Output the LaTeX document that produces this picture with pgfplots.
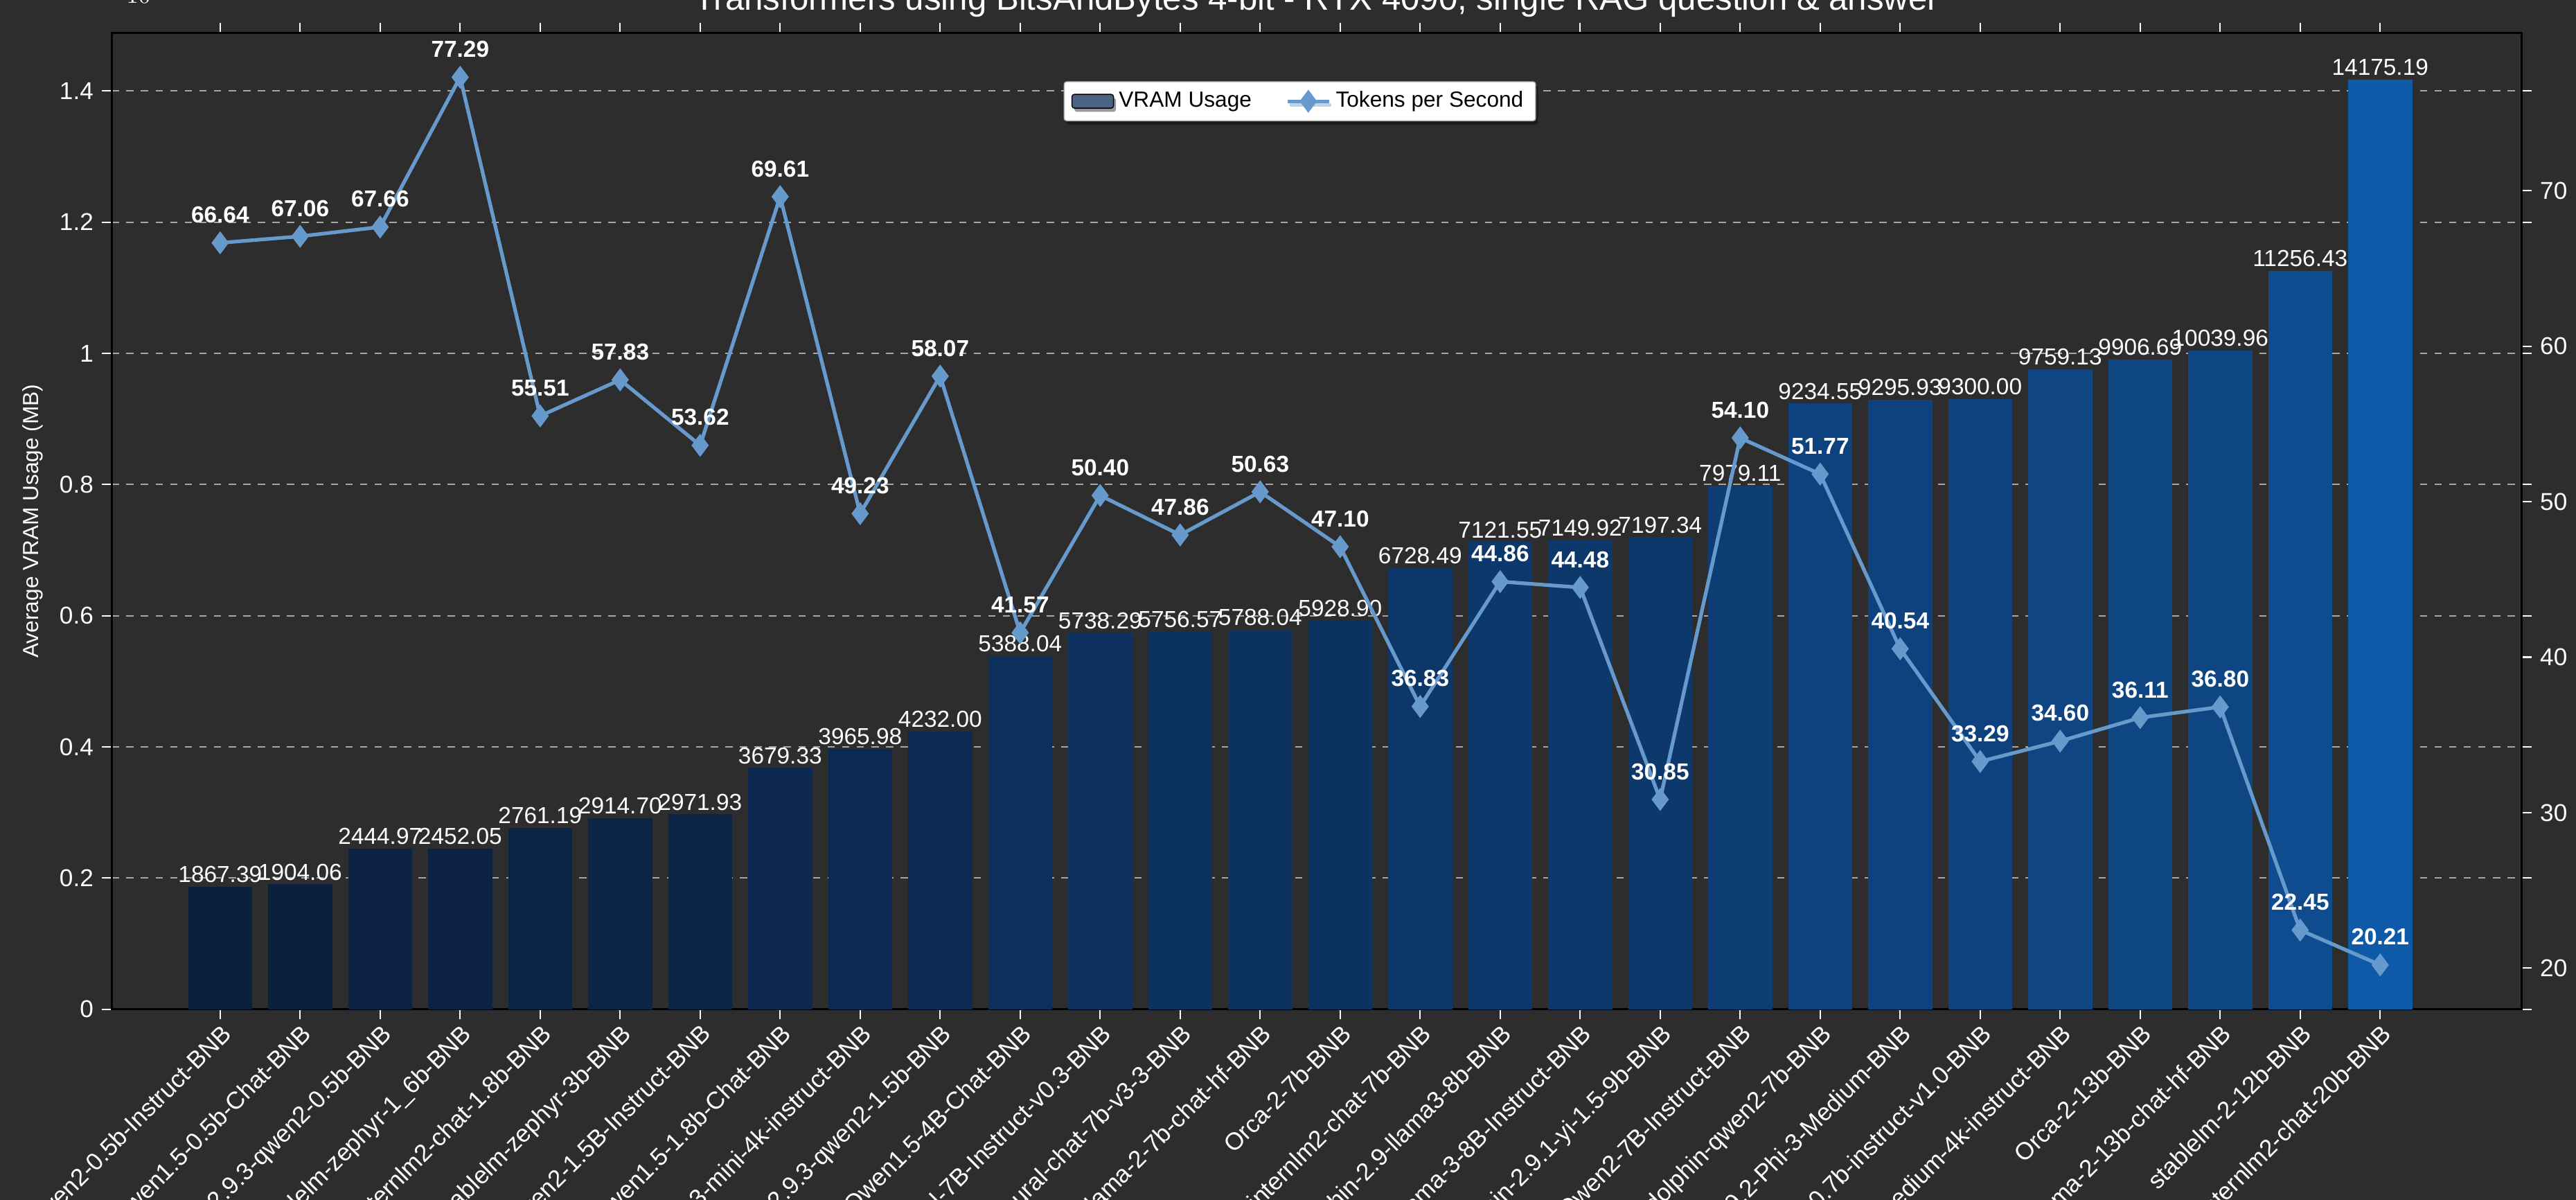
\documentclass[border=0pt]{standalone}
\usepackage{pgfplots}
\pgfplotsset{compat=1.18}
\usepackage{pgfplotstable}
\usepackage{fontspec}
\setmainfont{Liberation Sans}
\usetikzlibrary{shadows}
\definecolor{bg}{HTML}{2D2D2D}
\definecolor{lo}{HTML}{0B1F3F}
\definecolor{hi}{HTML}{0F5AA8}
\definecolor{linec}{HTML}{6699CC}
\definecolor{legbar}{HTML}{4A6283}
\pgfplotstableread{
x tps
0 66.64
1 67.06
2 67.66
3 77.29
4 55.51
5 57.83
6 53.62
7 69.61
8 49.23
9 58.07
10 41.57
11 50.40
12 47.86
13 50.63
14 47.10
15 36.83
16 44.86
17 44.48
18 30.85
19 54.10
20 51.77
21 40.54
22 33.29
23 34.60
24 36.11
25 36.80
26 22.45
27 20.21
}\tpsdata
\pgfplotsset{
  common/.style={
    scale only axis, width=34.79cm, height=14.09cm,
    xmin=-1.355, xmax=28.77,
    /pgf/number format/assume math mode=true,
    tick label style={font=\fontsize{10}{12}\selectfont, text=white},
    tick style={white, line width=0.6pt},
    tick align=outside, major tick length=4pt,
    label style={font=\fontsize{9}{11}\selectfont, text=white},
  }
}
\begin{document}
\begin{tikzpicture}
\fill[bg] (-1.613cm,-2.752cm) rectangle (35.573cm,14.565cm);
\begin{axis}[common,
  at={(0,0)}, anchor=south west,
  axis line style={black, line width=0.8pt},
  ymin=0, ymax=14885,
  ytick={0,2000,...,14000},
  /pgf/number format/fixed, /pgf/number format/1000 sep={},
  ymajorgrids, grid style={dashed, gray!70, line width=0.5pt},
  xtick={0,...,27},
  xticklabels={Qwen2-0.5b-Instruct-BNB,Qwen1.5-0.5b-Chat-BNB,dolphin-2.9.3-qwen2-0.5b-BNB,stablelm-zephyr-1\_6b-BNB,internlm2-chat-1.8b-BNB,stablelm-zephyr-3b-BNB,Qwen2-1.5B-Instruct-BNB,Qwen1.5-1.8b-Chat-BNB,Phi-3-mini-4k-instruct-BNB,dolphin-2.9.3-qwen2-1.5b-BNB,Qwen1.5-4B-Chat-BNB,Mistral-7B-Instruct-v0.3-BNB,neural-chat-7b-v3-3-BNB,Llama-2-7b-chat-hf-BNB,Orca-2-7b-BNB,internlm2-chat-7b-BNB,dolphin-2.9-llama3-8b-BNB,Meta-Llama-3-8B-Instruct-BNB,dolphin-2.9.1-yi-1.5-9b-BNB,Qwen2-7B-Instruct-BNB,dolphin-qwen2-7b-BNB,dolphin-2.9.2-Phi-3-Medium-BNB,solar-10.7b-instruct-v1.0-BNB,Phi-3-medium-4k-instruct-BNB,Orca-2-13b-BNB,Llama-2-13b-chat-hf-BNB,stablelm-2-12b-BNB,internlm2-chat-20b-BNB},
  xticklabel style={rotate=45, anchor=north east, inner sep=1pt},
  xlabel={Model}, ylabel={Average VRAM Usage (MB)},
  xlabel style={yshift=-2pt},
  title={Transformers using BitsAndBytes 4-bit - RTX 4090, single RAG question \& answer},
  title style={font=\fontsize{14}{16}\selectfont, text=white, yshift=-3pt},
  every axis plot/.append style={ybar, bar width=0.8, bar shift=0, draw=none},
  nodes near coords={\pgfmathprintnumber[fixed,precision=2,fixed zerofill,1000 sep={}]{\pgfplotspointmeta}},
  nodes near coords style={font=\fontsize{9.5}{11}\selectfont, text=white, inner sep=1.5pt},
]
\addplot[fill=hi!0!lo] coordinates {(0,1867.39)};
\addplot[fill=hi!0!lo] coordinates {(1,1904.06)};
\addplot[fill=hi!5!lo] coordinates {(2,2444.97)};
\addplot[fill=hi!5!lo] coordinates {(3,2452.05)};
\addplot[fill=hi!7!lo] coordinates {(4,2761.19)};
\addplot[fill=hi!9!lo] coordinates {(5,2914.70)};
\addplot[fill=hi!9!lo] coordinates {(6,2971.93)};
\addplot[fill=hi!15!lo] coordinates {(7,3679.33)};
\addplot[fill=hi!17!lo] coordinates {(8,3965.98)};
\addplot[fill=hi!19!lo] coordinates {(9,4232.00)};
\addplot[fill=hi!29!lo] coordinates {(10,5388.04)};
\addplot[fill=hi!31!lo] coordinates {(11,5738.29)};
\addplot[fill=hi!32!lo] coordinates {(12,5756.57)};
\addplot[fill=hi!32!lo] coordinates {(13,5788.04)};
\addplot[fill=hi!33!lo] coordinates {(14,5928.90)};
\addplot[fill=hi!40!lo] coordinates {(15,6728.49)};
\addplot[fill=hi!43!lo] coordinates {(16,7121.55)};
\addplot[fill=hi!43!lo] coordinates {(17,7149.92)};
\addplot[fill=hi!43!lo] coordinates {(18,7197.34)};
\addplot[fill=hi!50!lo] coordinates {(19,7979.11)};
\addplot[fill=hi!60!lo] coordinates {(20,9234.55)};
\addplot[fill=hi!60!lo] coordinates {(21,9295.93)};
\addplot[fill=hi!60!lo] coordinates {(22,9300.00)};
\addplot[fill=hi!64!lo] coordinates {(23,9759.13)};
\addplot[fill=hi!65!lo] coordinates {(24,9906.69)};
\addplot[fill=hi!66!lo] coordinates {(25,10039.96)};
\addplot[fill=hi!76!lo] coordinates {(26,11256.43)};
\addplot[fill=hi!100!lo] coordinates {(27,14175.19)};
\end{axis}
\begin{axis}[common,
  at={(0,0)}, anchor=south west,
  axis x line=none, axis y line*=right,
  axis line style={black, line width=0.8pt},
  ymin=17.36, ymax=80.14,
  ytick={20,30,...,70},
  ylabel={Tokens Generated per Second},
  legend style={at={(0.493,0.93)}, anchor=center, fill=white, draw=gray!60,
    rounded corners=1pt, text=black, font=\fontsize{9}{11}\selectfont,
    legend columns=2, /tikz/every even column/.append style={column sep=12pt},
    drop shadow={shadow xshift=1pt, shadow yshift=-1.5pt, fill=black, opacity=0.4}},
]
\addlegendimage{area legend, fill=legbar, draw=none}
\addlegendentry{VRAM Usage}
\addplot[linec, line width=1.5pt, mark=diamond*, mark size=3.5pt,
  nodes near coords={\pgfmathprintnumber[fixed,precision=2,fixed zerofill]{\pgfplotspointmeta}},
  nodes near coords style={font=\bfseries\fontsize{9.5}{11}\selectfont, text=white, yshift=4pt}]
  table[x=x, y=tps] {\tpsdata};
\addlegendentry{Tokens per Second}
\end{axis}
\pgfresetboundingbox
\useasboundingbox (-1.613cm,-2.752cm) rectangle (35.573cm,14.565cm);
\end{tikzpicture}
\end{document}
